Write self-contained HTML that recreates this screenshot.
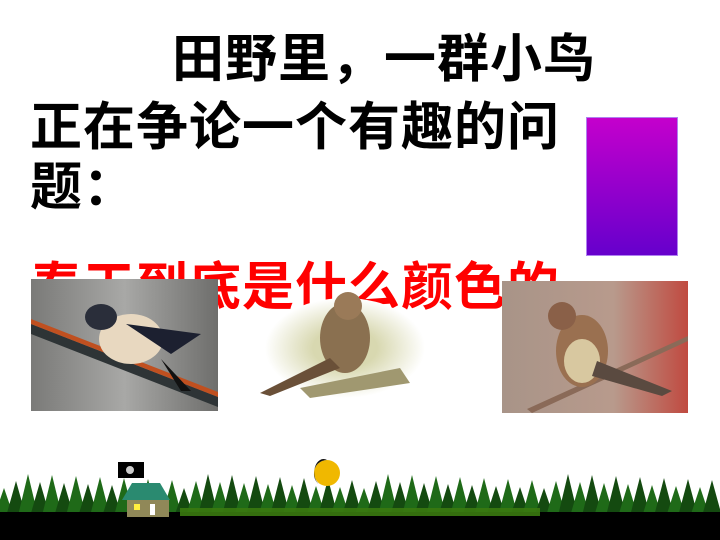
<!DOCTYPE html>
<html><head><meta charset="utf-8"><style>
html,body{margin:0;padding:0;background:#fff;}
#s{position:relative;width:720px;height:540px;overflow:hidden;background:#fff;font-family:"Liberation Sans","Noto Sans CJK SC",sans-serif;font-weight:bold;}
.t{position:absolute;font-size:52px;line-height:60px;white-space:nowrap;color:#000;letter-spacing:1px;}
.ph{position:absolute;}
</style></head><body>
<div id="s">
<div class="t" style="left:172px;top:30px">田野里，一群小鸟</div>
<div class="t" style="left:30px;top:98px">正在争论一个有趣的问</div>
<div class="t" style="left:30px;top:158px">题：</div>
<div class="t" style="left:30px;top:258px;color:#ff0000">春天到底是什么颜色的</div>
<div style="position:absolute;left:587px;top:118px;width:90px;height:137px;background:linear-gradient(#c400cc,#6600cc);box-shadow:0 0 0 1px #b080f0"></div>

<svg class="ph" style="left:31px;top:279px" width="187" height="132">
<defs><linearGradient id="g1" x1="0" x2="1"><stop offset="0" stop-color="#7a7a78"/><stop offset="0.5" stop-color="#a8a8a6"/><stop offset="1" stop-color="#6e6e6c"/></linearGradient></defs>
<rect width="187" height="132" fill="url(#g1)"/>
<path d="M0 55 L187 128 L187 118 L0 45Z" fill="#2e3436"/><path d="M0 45 L187 118 L187 113 L0 40Z" fill="#c05020"/>
<ellipse cx="100" cy="60" rx="32" ry="25" fill="#e8d8c0"/><ellipse cx="70" cy="38" rx="16" ry="13" fill="#2a2e3a"/>
<path d="M95 45 L170 55 L140 75Z" fill="#1c2030"/><path d="M130 80 L160 112 L150 112Z" fill="#111"/>
</svg>
<svg class="ph" style="left:250px;top:288px" width="175" height="112">
<defs><radialGradient id="g2"><stop offset="0.4" stop-color="#d8d8b0"/><stop offset="1" stop-color="#fff"/></radialGradient></defs>
<ellipse cx="95" cy="60" rx="80" ry="50" fill="url(#g2)"/>
<path d="M50 100 L150 80 L160 95 L60 110Z" fill="#a09870"/>
<ellipse cx="95" cy="50" rx="25" ry="35" fill="#8a7050"/><circle cx="98" cy="18" r="14" fill="#9a7a58"/>
<path d="M80 70 L10 105 L20 108 L90 80Z" fill="#6a5038"/>
</svg>
<svg class="ph" style="left:502px;top:281px" width="186" height="132">
<defs><linearGradient id="g3" x1="0" x2="1"><stop offset="0" stop-color="#a89488"/><stop offset="0.6" stop-color="#b89a8c"/><stop offset="1" stop-color="#c04a40"/></linearGradient></defs>
<rect width="186" height="132" fill="url(#g3)"/>
<path d="M30 132 L186 60 L186 55 L25 128Z" fill="#8a6a58"/>
<ellipse cx="80" cy="70" rx="26" ry="36" fill="#9a7050"/><ellipse cx="80" cy="80" rx="18" ry="22" fill="#d8c8a0"/><circle cx="60" cy="35" r="14" fill="#8a6048"/>
<path d="M95 80 L170 110 L160 115 L90 95Z" fill="#5a4a40"/>
</svg>

<svg style="position:absolute;left:0;top:440px" width="720" height="100">
<g id="trees"></g>
<rect x="0" y="72" width="720" height="28" fill="#000"/>
<rect x="180" y="68" width="360" height="8" fill="#3a7a10" opacity="0.9"/>
<circle cx="327" cy="33" r="13" fill="#f0b800"/>
<path d="M314 33 A13 13 0 0 1 327 20 A9 13 0 0 0 320 45 A13 13 0 0 1 314 33Z" fill="#111"/>
<g>
<rect x="118" y="22" width="26" height="16" fill="#000"/><circle cx="130" cy="30" r="4" fill="#ccc"/>
<path d="M122 60 L132 43 L160 43 L170 60Z" fill="#2a8a70"/>
<rect x="127" y="60" width="42" height="17" fill="#908858"/>
<rect x="134" y="64" width="6" height="6" fill="#ffee40"/><rect x="150" y="64" width="5" height="11" fill="#fff"/>
</g>
</svg>
<script>
var g=document.getElementById('trees');var ns='http://www.w3.org/2000/svg';
for(var i=0;i<60;i++){var x=i*12+4;var h=22+((i*37)%15);var p=document.createElementNS(ns,'path');
p.setAttribute('d','M'+(x-11)+' 80 L'+x+' '+(78-h-8)+' L'+(x+11)+' 80Z');p.setAttribute('fill',i%2?'#144a10':'#1f6a18');


g.appendChild(p);}
</script>
</div>
</body></html>
